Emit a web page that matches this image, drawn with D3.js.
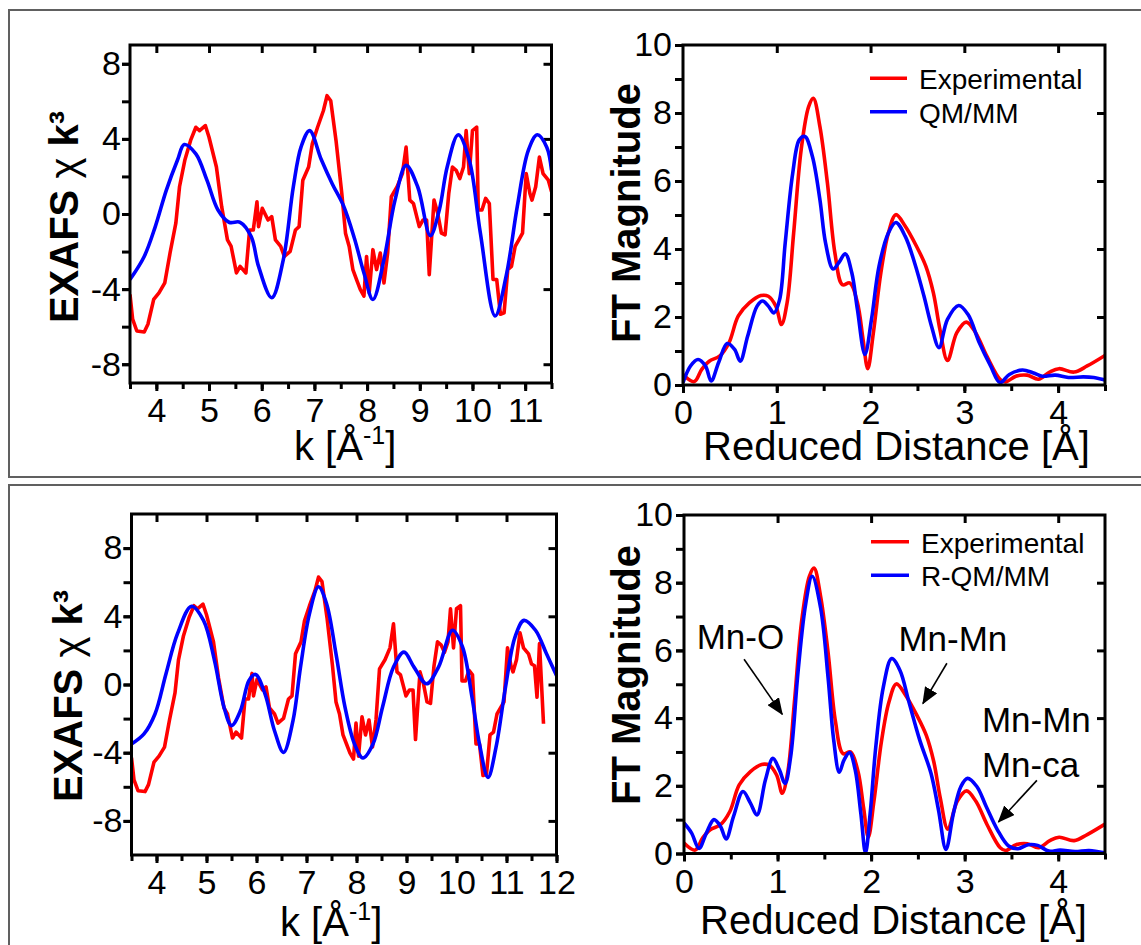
<!DOCTYPE html>
<html>
<head>
<meta charset="utf-8">
<script src="https://cdn.jsdelivr.net/npm/d3@7"></script>
<style>
  body { margin: 0; background: #fff; }
</style>
</head>
<body>
<script>
var FONT = '"Liberation Sans", Arial, Helvetica, sans-serif';

// ---- data ----
// experimental EXAFS, k vs chi*k^3 (same spectrum in both left panels)
var expChi = [[3.5,-4.29],[3.55,-5.6],[3.63,-6.23],[3.77,-6.28],[3.84,-5.87],[3.95,-4.55],[4.05,-4.2],[4.16,-3.67],
  [4.26,-2.08],[4.37,-0.49],[4.44,1.45],[4.54,2.86],[4.65,3.92],[4.75,4.62],[4.82,4.44],[4.93,4.71],[5.0,4.09],
  [5.14,2.5],[5.24,0.39],[5.35,-1.38],[5.42,-1.73],[5.52,-3.14],[5.59,-2.79],[5.7,-3.14],[5.77,-0.85],[5.84,-0.85],
  [5.91,0.65],[5.94,-0.67],[6.01,0.3],[6.12,-0.32],[6.19,-0.14],[6.26,-1.38],[6.36,-1.73],[6.43,-2.26],[6.54,-1.99],
  [6.64,-0.85],[6.71,-0.67],[6.78,1.8],[6.89,2.5],[6.96,3.74],[7.06,4.62],[7.17,5.5],[7.24,6.3],[7.31,6.03],
  [7.41,3.92],[7.52,1.09],[7.59,-1.02],[7.66,-1.73],[7.73,-2.96],[7.8,-3.49],[7.87,-4.02],[7.94,-4.37],[7.99,-2.26],
  [8.04,-4.2],[8.11,-1.9],[8.18,-2.96],[8.25,-2.08],[8.32,-3.67],[8.39,-2.08],[8.46,0.92],[8.57,1.45],[8.67,2.15],
  [8.74,3.56],[8.81,0.74],[8.88,0.56],[8.99,-0.67],[9.06,-0.32],[9.13,-0.32],[9.18,-3.23],[9.27,0.74],[9.34,0.04],
  [9.41,-1.02],[9.48,-1.11],[9.55,1.09],[9.62,2.5],[9.69,2.33],[9.76,1.89],[9.83,2.5],[9.88,4.44],[9.94,2.15],
  [10.0,4.44],[10.08,4.62],[10.11,0.21],[10.18,0.21],[10.25,0.83],[10.32,0.56],[10.39,-3.49],[10.46,-3.49],
  [10.53,-5.34],[10.6,-5.26],[10.67,-2.96],[10.74,-2.79],[10.81,-1.73],[10.88,-1.38],[10.95,-1.02],[11.02,2.15],
  [11.09,1.09],[11.13,0.74],[11.2,1.45],[11.27,3.03],[11.34,2.15],[11.44,1.8],[11.5,1.2],[11.56,1.1],[11.61,-0.75],
  [11.66,2.4],[11.74,-2.3]];

// QM/MM EXAFS (top)
var qmChi = [[3.5,-3.49],[3.77,-2.26],[3.98,-0.67],[4.19,1.27],[4.4,2.86],[4.53,3.7],[4.75,3.2],[4.96,1.8],
  [5.17,0.21],[5.38,-0.44],[5.59,-0.44],[5.8,-1.2],[5.94,-2.79],[6.19,-4.46],[6.41,-2.43],[6.6,1.45],[6.75,3.6],
  [6.91,4.44],[7.13,2.9],[7.34,1.6],[7.55,0.45],[7.76,-1.3],[7.94,-3.14],[8.11,-4.55],[8.32,-2.43],[8.53,0.74],
  [8.74,2.59],[8.96,1.45],[9.2,-1.15],[9.37,0.21],[9.52,2.5],[9.73,4.22],[9.94,2.86],[10.15,-1.02],[10.43,-5.43],
  [10.64,-3.3],[10.85,0.39],[11.06,3.39],[11.23,4.22],[11.41,3.56],[11.5,2.33]];

// R-QM/MM EXAFS (bottom)
var rqmChi = [[3.5,-3.49],[3.75,-2.9],[3.97,-1.73],[4.19,0.63],[4.42,2.98],[4.7,4.59],[4.94,3.76],[5.16,1.41],
  [5.35,-1.33],[5.5,-2.41],[5.68,-1.53],[5.85,0.24],[5.98,0.59],[6.17,-0.55],[6.36,-2.71],[6.54,-3.98],[6.73,-2.12],
  [6.88,1.02],[7.06,4.16],[7.24,5.73],[7.4,4.75],[7.59,1.8],[7.77,-1.33],[7.96,-3.49],[8.13,-4.31],[8.33,-3.49],
  [8.52,-1.33],[8.74,1.02],[8.95,1.9],[9.15,1.02],[9.4,0.04],[9.64,1.02],[9.92,3.18],[10.12,2.2],[10.31,-0.75],
  [10.46,-3.49],[10.63,-5.45],[10.79,-3.69],[10.98,-0.16],[11.17,2.78],[11.35,3.76],[11.58,3.18],[11.8,1.8],[12.0,0.53]];

// experimental FT magnitude (same in both right panels)
var expFt = [[0,0.31],[0.12,0.1],[0.2,0.46],[0.28,0.7],[0.39,0.85],[0.49,1.24],[0.59,2.03],[0.71,2.42],[0.83,2.63],
  [0.91,2.61],[0.99,2.32],[1.05,1.78],[1.11,2.42],[1.18,4.47],[1.26,6.92],[1.34,8.19],[1.39,8.43],[1.46,7.6],
  [1.54,5.94],[1.62,3.88],[1.7,2.95],[1.78,3.0],[1.86,2.42],[1.92,1.34],[1.97,0.48],[2.03,1.54],[2.11,3.3],
  [2.19,4.47],[2.27,5.01],[2.37,4.67],[2.49,4.08],[2.59,3.49],[2.67,2.71],[2.74,1.63],[2.82,0.72],[2.92,1.54],
  [3.02,1.85],[3.12,1.54],[3.24,0.85],[3.38,0.17],[3.44,0.09],[3.55,0.26],[3.67,0.29],[3.79,0.17],[3.91,0.38],
  [4.01,0.48],[4.17,0.38],[4.31,0.56],[4.5,0.87]];

// QM/MM FT magnitude (top)
var qmFt = [[0,0.07],[0.08,0.56],[0.16,0.75],[0.24,0.56],[0.3,0.12],[0.38,0.66],[0.47,1.22],[0.55,1.05],[0.61,0.7],
  [0.69,1.44],[0.79,2.32],[0.85,2.47],[0.91,2.32],[0.97,2.12],[1.03,2.51],[1.09,4.18],[1.17,6.23],[1.24,7.21],
  [1.3,7.31],[1.38,6.72],[1.46,5.45],[1.52,4.18],[1.6,3.41],[1.66,3.59],[1.73,3.86],[1.8,3.3],[1.86,2.22],
  [1.94,0.9],[2.01,1.93],[2.09,3.49],[2.19,4.47],[2.27,4.78],[2.37,4.37],[2.47,3.59],[2.57,2.61],[2.65,1.73],
  [2.73,1.1],[2.82,1.93],[2.94,2.34],[3.04,2.07],[3.16,1.24],[3.28,0.56],[3.38,0.07],[3.48,0.31],[3.62,0.44],
  [3.73,0.36],[3.83,0.26],[3.97,0.29],[4.11,0.22],[4.27,0.24],[4.38,0.22],[4.5,0.15]];

// R-QM/MM FT magnitude (bottom)
var rqmFt = [[0,0.9],[0.08,0.61],[0.16,0.15],[0.24,0.61],[0.32,1.0],[0.39,0.8],[0.45,0.43],[0.53,1.1],[0.63,1.83],
  [0.71,1.49],[0.78,1.14],[0.87,2.17],[0.95,2.81],[1.02,2.47],[1.08,2.07],[1.14,2.86],[1.22,5.4],[1.3,7.36],
  [1.37,8.19],[1.46,7.26],[1.54,5.2],[1.6,3.35],[1.66,2.4],[1.71,2.76],[1.77,2.98],[1.83,2.47],[1.89,1.19],
  [1.94,0.02],[1.99,1.19],[2.05,3.15],[2.13,4.91],[2.22,5.76],[2.31,5.4],[2.4,4.52],[2.52,3.35],[2.64,2.37],
  [2.72,1.29],[2.8,0.12],[2.88,1.19],[2.96,1.98],[3.03,2.22],[3.13,1.98],[3.23,1.39],[3.35,0.7],[3.47,0.22],
  [3.57,0.14],[3.68,0.26],[3.78,0.24],[3.9,0.07],[4.02,0.1],[4.18,0.06],[4.33,0.09],[4.5,0.02]];

// ticks
var kMajorTop = [4, 5, 6, 7, 8, 9, 10, 11];
var kMajorBottom = [4, 5, 6, 7, 8, 9, 10, 11, 12];
var chiLabels = [-8, -4, 0, 4, 8];
var chiMinor = [-8, -6, -4, -2, 0, 2, 4, 6, 8];
var rMajor = [0, 1, 2, 3, 4];
var ftLabels = [0, 2, 4, 6, 8, 10];
var ftMinor = [0, 1, 2, 3, 4, 5, 6, 7, 8, 9, 10];

var legendTop = ["Experimental", "QM/MM"];
var legendBottom = ["Experimental", "R-QM/MM"];
var notes = [
  { text: "Mn-O", r: 0.136, v: 6.04 },
  { text: "Mn-Mn", r: 2.292, v: 5.98 },
  { text: "Mn-Mn", r: 3.184, v: 3.59 },
  { text: "Mn-ca", r: 3.184, v: 2.26 }
];
var arrows = [
  { r1: 0.642, v1: 5.74, r2: 1.051, v2: 4.11 },
  { r1: 2.81, v1: 5.62, r2: 2.553, v2: 4.43 },
  { r1: 3.772, v1: 2.16, r2: 3.361, v2: 0.93 }
];

var RED = "#ff0000", BLUE = "#0000ff";

// ---- drawing ----
var svg = d3.select("body").append("svg")
  .attr("width", 1141).attr("height", 945);

svg.append("defs").append("marker")
  .attr("id", "head")
  .attr("markerUnits", "userSpaceOnUse")
  .attr("markerWidth", 17).attr("markerHeight", 14)
  .attr("refX", 16).attr("refY", 7)
  .attr("orient", "auto")
  .append("path").attr("d", "M0,0 L17,7 L0,14 Z").attr("fill", "#000");

// outer boxes
svg.append("rect").attr("x", 9).attr("y", 10).attr("width", 1145).attr("height", 467)
  .attr("fill", "none").attr("stroke", "#606060").attr("stroke-width", 2);
svg.append("rect").attr("x", 9).attr("y", 485).attr("width", 1145).attr("height", 480)
  .attr("fill", "none").attr("stroke", "#606060").attr("stroke-width", 2);

function styleAxis(g) {
  g.select(".domain").remove();
  g.attr("font-family", FONT).attr("font-size", 34);
  g.selectAll("line").attr("stroke", "#000").attr("stroke-width", 3);
  g.selectAll("text").attr("fill", "#000");
}

function fmt(d) { return String(d); }

function drawPanel(p) {
  var x = d3.scaleLinear().domain(p.xDom).range([p.left, p.right]);
  var y = d3.scaleLinear().domain(p.yDom).range([p.bottom, p.top]);

  svg.append("clipPath").attr("id", "clip-" + p.name)
    .append("rect")
    .attr("x", p.left).attr("y", p.top)
    .attr("width", p.right - p.left).attr("height", p.bottom - p.top);

  // bottom: minor + labelled major
  svg.append("g").attr("transform", "translate(0," + p.bottom + ")")
    .call(d3.axisBottom(x).tickValues(p.xMinor).tickSize(6).tickFormat(""))
    .call(styleAxis);
  svg.append("g").attr("transform", "translate(0," + p.bottom + ")")
    .call(d3.axisBottom(x).tickValues(p.xMajor).tickSize(8).tickPadding(7).tickFormat(fmt))
    .call(styleAxis);
  // top, ticks pointing in
  svg.append("g").attr("transform", "translate(0," + p.top + ")")
    .call(d3.axisTop(x).tickValues(p.xTop).tickSize(-8).tickFormat(""))
    .call(styleAxis);
  // left
  svg.append("g").attr("transform", "translate(" + p.left + ",0)")
    .call(d3.axisLeft(y).tickValues(p.yMinor).tickSize(8).tickFormat(""))
    .call(styleAxis);
  svg.append("g").attr("transform", "translate(" + p.left + ",0)")
    .call(d3.axisLeft(y).tickValues(p.yLabels).tickSize(8).tickPadding(p.yPad).tickFormat(fmt))
    .call(styleAxis);
  // right, ticks pointing in
  svg.append("g").attr("transform", "translate(" + p.right + ",0)")
    .call(d3.axisRight(y).tickValues(p.yRight).tickSize(-8).tickFormat(""))
    .call(styleAxis);

  var plot = svg.append("g").attr("clip-path", "url(#clip-" + p.name + ")");
  p.series.forEach(function (s) {
    var line = d3.line()
      .x(function (d) { return x(d[0]); })
      .y(function (d) { return y(d[1]); })
      .curve(s.smooth ? d3.curveCatmullRom.alpha(0.5) : d3.curveLinear);
    plot.append("path")
      .datum(s.data)
      .attr("d", line)
      .attr("fill", "none")
      .attr("stroke", s.color)
      .attr("stroke-width", 3.6)
      .attr("stroke-linejoin", "round");
  });

  // frame
  svg.append("rect")
    .attr("x", p.left).attr("y", p.top)
    .attr("width", p.right - p.left).attr("height", p.bottom - p.top)
    .attr("fill", "none").attr("stroke", "#000").attr("stroke-width", 3);

  // y title
  var yt = svg.append("text")
    .attr("transform", "translate(" + p.yTitleX + "," + p.yTitleY + ") rotate(-90)")
    .attr("text-anchor", "middle")
    .attr("font-family", FONT).attr("font-size", 40).attr("font-weight", "bold");
  if (p.kind === "chi") {
    yt.append("tspan").text("EXAFS ");
    yt.append("tspan").attr("font-weight", "normal").text("\u03c7");
    yt.append("tspan").text(" k\u00b3");
  } else {
    yt.text("FT Magnitude");
  }

  // x title
  var xt = svg.append("text")
    .attr("x", p.xTitleX).attr("y", p.xTitleY)
    .attr("font-family", FONT).attr("font-size", 40);
  if (p.kind === "chi") {
    xt.append("tspan").text("k [\u00c5");
    xt.append("tspan").attr("font-size", 25).attr("dy", -16).text("-1");
    xt.append("tspan").attr("dy", 16).text("]");
  } else {
    xt.text("Reduced Distance [\u00c5]");
  }

  // legend
  if (p.legend) {
    p.legend.forEach(function (lab, i) {
      var ly = p.legY + i * 33.5;
      svg.append("line")
        .attr("x1", p.legX1).attr("x2", p.legX2).attr("y1", ly).attr("y2", ly)
        .attr("stroke", p.series[i].color).attr("stroke-width", 3.6);
      svg.append("text")
        .attr("x", p.legX2 + 12).attr("y", ly + 11)
        .attr("font-family", FONT).attr("font-size", 28)
        .text(lab);
    });
  }

  // annotations
  if (p.notes) {
    p.notes.forEach(function (n) {
      svg.append("text")
        .attr("x", x(n.r)).attr("y", y(n.v))
        .attr("font-family", FONT).attr("font-size", 35)
        .text(n.text);
    });
    p.arrows.forEach(function (a) {
      svg.append("line")
        .attr("x1", x(a.r1)).attr("y1", y(a.v1))
        .attr("x2", x(a.r2)).attr("y2", y(a.v2))
        .attr("stroke", "#000").attr("stroke-width", 1.6)
        .attr("marker-end", "url(#head)");
    });
  }
}

drawPanel({
  name: "tl", kind: "chi",
  left: 130, right: 551.5, top: 45, bottom: 383,
  xDom: [3.5, 11.5], yDom: [-9, 9],
  xMajor: kMajorTop, xTop: kMajorTop, xMinor: d3.range(3.5, 11.51, 0.5),
  yLabels: chiLabels, yMinor: chiMinor, yRight: chiLabels, yPad: 1,
  yTitleX: 78, yTitleY: 217, xTitleX: 294, xTitleY: 460,
  series: [{ data: expChi, color: RED, smooth: false }, { data: qmChi, color: BLUE, smooth: true }]
});

drawPanel({
  name: "tr", kind: "ft",
  left: 683, right: 1105, top: 45, bottom: 385,
  xDom: [0, 4.5], yDom: [0, 10],
  xMajor: rMajor, xTop: [1, 2, 3, 4], xMinor: d3.range(0, 4.51, 0.5),
  yLabels: ftLabels, yMinor: ftMinor, yRight: [2, 4, 6, 8], yPad: 3,
  yTitleX: 640, yTitleY: 213, xTitleX: 703, xTitleY: 460,
  series: [{ data: expFt, color: RED, smooth: true }, { data: qmFt, color: BLUE, smooth: true }],
  legend: legendTop, legX1: 870, legX2: 907, legY: 78.3
});

drawPanel({
  name: "bl", kind: "chi",
  left: 131.5, right: 556.5, top: 514, bottom: 855,
  xDom: [3.5, 12], yDom: [-10, 10],
  xMajor: kMajorBottom, xTop: kMajorTop, xMinor: d3.range(3.5, 12.01, 0.5),
  yLabels: chiLabels, yMinor: chiMinor, yRight: chiLabels, yPad: 1,
  yTitleX: 82, yTitleY: 696, xTitleX: 280, xTitleY: 936,
  series: [{ data: expChi, color: RED, smooth: false }, { data: rqmChi, color: BLUE, smooth: true }]
});

drawPanel({
  name: "br", kind: "ft",
  left: 684, right: 1105, top: 515, bottom: 853.5,
  xDom: [0, 4.5], yDom: [0, 10],
  xMajor: rMajor, xTop: [1, 2, 3, 4], xMinor: d3.range(0, 4.51, 0.5),
  yLabels: ftLabels, yMinor: ftMinor, yRight: [2, 4, 6, 8], yPad: 3,
  yTitleX: 640, yTitleY: 675, xTitleX: 700, xTitleY: 934,
  series: [{ data: expFt, color: RED, smooth: true }, { data: rqmFt, color: BLUE, smooth: true }],
  legend: legendBottom, legX1: 871, legX2: 909, legY: 541.7,
  notes: notes, arrows: arrows
});
</script>
</body>
</html>
